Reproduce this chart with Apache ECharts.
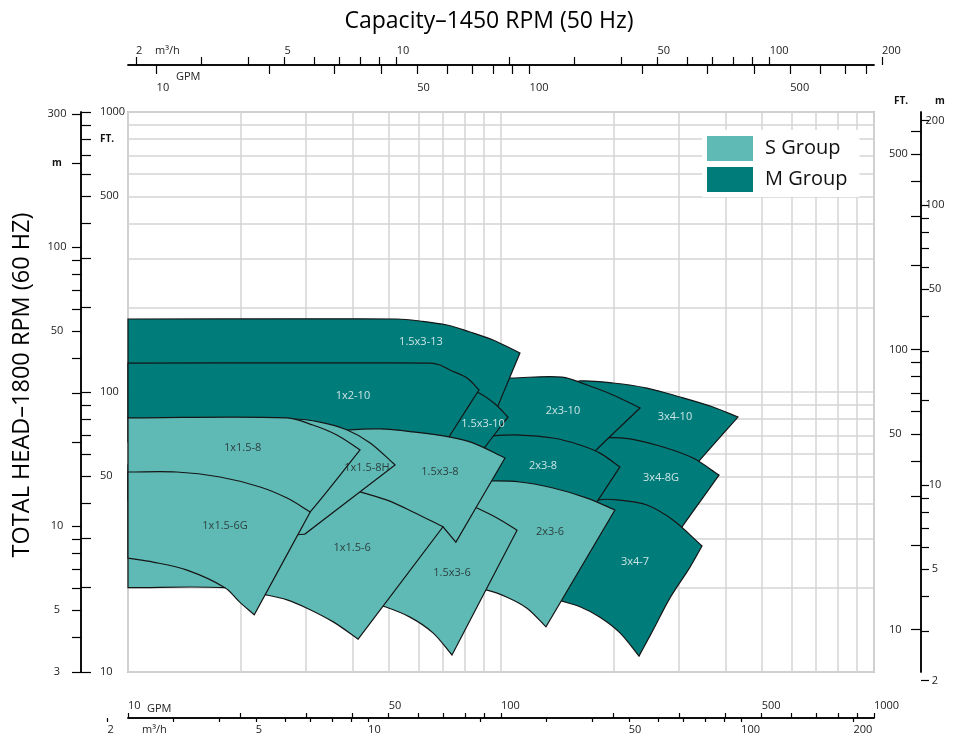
<!DOCTYPE html>
<html>
<head>
<meta charset="utf-8">
<title>Pump coverage chart</title>
<script src="https://cdn.jsdelivr.net/npm/echarts@6/dist/echarts.min.js"></script>
<style>
html, body { margin: 0; padding: 0; background: #fff; }
#chart { width: 955px; height: 740px; }
</style>
</head>
<body>
<div id="chart"></div>
<script>
// ---- axis ticks / labels ----
var gpmTicks = [10, 20, 30, 40, 50, 60, 70, 80, 90, 100, 200, 300, 400, 500, 600, 700, 800, 900, 1000];
var gpmLabelsBottom = [10, 50, 100, 500, 1000];
var gpmLabelsTop = [10, 50, 100, 500];
var m3hTicks = [2, 3, 4, 5, 6, 7, 8, 9, 10, 20, 30, 40, 50, 60, 70, 80, 90, 100, 200];
var m3hLabelsTop = [2, 5, 10, 50, 100];
var m3hLabelsBottom = [5, 10, 50, 100, 200];
var ftTicksLeft = [10, 20, 30, 40, 50, 60, 70, 80, 90, 100, 200, 300, 400, 500, 600, 700, 800, 900, 1000];
var ftLabelsLeft = [10, 50, 100, 500, 800, 1000];   // 800 is printed as "FT."
var ftTicksRight = [10, 20, 30, 40, 50, 60, 70, 80, 90, 100, 200, 300, 400, 500, 600];
var ftLabelsRight = [10, 50, 100, 500];
var mTicks = [2, 3, 4, 5, 6, 7, 8, 9, 10, 20, 30, 40, 50, 60, 70, 80, 90, 100, 200, 300];
var mLabelsLeft = [3, 5, 10, 50, 100, 200, 300];    // 200 is printed as "m"
var mLabelsRight = [5, 10, 50, 100, 200];

// ---- pump ranges, [GPM, FT] at 1800 RPM ----
// M group, back to front
var outline3x4_10 = [[153.1,105.9],[162.8,109.5],[199.7,107.7],[246.2,103.3],[302,96.0],[370.2,88.4],[431.9,81.4],[341.6,57.2],[331.2,54.4],[178.6,54.4]];
var outline3x4_8G = [[168.0,66.3],[184.2,68.5],[221.7,68.0],[271.9,63.6],[327.1,58.1],[384.1,50.5],[305.7,33.0],[298.3,31.6],[168.0,31.6]];
var outline3x4_7 = [[157.9,37.3],[182.0,41.1],[208.4,41.1],[246.2,39.5],[289.1,34.9],[345.9,28.2],[321.2,23.7],[283.9,18.4],[255.5,14.1],[234.4,11.4],[208.4,13.8],[184.2,15.7],[162.8,17.1],[145.7,17.9],[127.2,18.8]];
var outline2x3_10 = [[102.5,112.2],[107.0,112.2],[145.7,113.1],[170.1,105.9],[199.7,97.6],[235.9,87.7],[176.4,60.5],[171.1,57.2],[96.4,56.2],[91.7,67.4]];
var outline2x3_8 = [[87.8,69.7],[91.7,69.7],[112.4,70.2],[137.9,68.5],[162.8,64.7],[184.2,60.5],[208.4,54.0],[182.0,41.1],[173.2,37.3],[87.8,37.3]];
var outline15x3_13 = [[10,182.3],[52.6,182.3],[60.7,179.3],[71.6,173.5],[82.6,163.8],[95.2,153.4],[112.4,137.8],[97.6,87.7],[95.2,80.8],[10,80.8]];
var outline15x3_10 = [[53.6,116.9],[68.6,111.3],[87.3,99.2],[96.4,90.6],[104.4,81.4],[90.6,63.6],[88.4,60.5],[53.6,60.5]];
var outline1x2_10 = [[10,126.9],[64.5,126.9],[68.6,124.9],[73.0,119.8],[81.1,112.2],[87.3,101.7],[72.5,69.1],[71.2,66.3],[10,66.3]];

var mNames = ['3x4-10', '3x4-8G', '3x4-7', '2x3-10', '2x3-8', '1.5x3-13', '1.5x3-10', '1x2-10'];
var mOutlines = [outline3x4_10, outline3x4_8G, outline3x4_7, outline2x3_10, outline2x3_8, outline15x3_13, outline15x3_10, outline1x2_10];
var mLabelAt = [[292.7,81.4],[268.5,49.3],[228.7,24.7],[146.6,85.5],[129.6,54.4],[61.0,150.9],[89.5,76.9],[40.1,96.8]];

// S group, back to front
var outline2x3_6 = [[82.6,47.3],[93.4,48.1],[112.4,47.7],[137.9,45.4],[170.1,41.8],[202,37.9],[132.0,14.5],[117.4,16.9],[103.8,18.5],[91.7,19.6],[80.1,20.0]];
var outline15x3_6 = [[64.5,42.9],[77.6,41.1],[86.2,38.5],[97.6,35.5],[110.4,32.1],[73.9,11.5],[65.7,13.8],[57.0,15.7],[48.9,17.1],[44.6,17.6]];
var outline15x3_8 = [[34.8,71.4],[39.4,73.2],[47.4,73.8],[58.1,72.0],[72.5,69.1],[84.1,65.8],[102.5,58.1],[75.7,29.1],[69.9,33.0],[58.1,34.9],[39.4,39.5],[34.8,48.5]];
var outline1x15_6 = [[10,54.9],[21.2,52.7],[34.8,47.7],[41.9,44.0],[49.5,41.1],[58.1,37.3],[69.9,33.0],[41.4,13.1],[35.5,15.1],[30.2,16.9],[26.7,18.1],[23.7,18.8],[18.2,20.0],[10,20.0]];
var outline1x15_8H = [[15.6,78.8],[27.7,80.1],[32.7,78.1],[38.7,73.2],[44.6,65.8],[52.0,54.9],[29.8,31.1],[27.2,31.1],[15.6,48.5]];
var outline1x15_8 = [[10,80.8],[26.7,80.8],[31.3,76.2],[36.3,70.2],[41.9,62.1],[30.8,37.3],[28.9,34.9],[10,41.1]];
var outline1x15_6G = [[10,51.8],[13.5,51.8],[17.65,49.7],[22.6,45.8],[26.7,41.8],[30.8,37.3],[21.8,16.0],[19.9,17.8],[18.2,20.0],[14.4,23.1],[11.67,24.7],[10,25.5]];

var sNames = ['2x3-6', '1.5x3-6', '1.5x3-8', '1x1.5-6', '1x1.5-8H', '1x1.5-8', '1x1.5-6G'];
var sOutlines = [outline2x3_6, outline15x3_6, outline15x3_8, outline1x15_6, outline1x15_8H, outline1x15_8, outline1x15_6G];
var sLabelAt = [[135.3,31.6],[73.9,22.6],[68.6,51.8],[39.9,27.7],[43.7,53.5],[20.3,63.1],[18.2,33.2]];

// ---- unit conversions and geometry ----
var GPM_TO_M3H = 0.22712;
var FT_PER_M = 3.2808;
var X_DECADE = 373, Y_DECADE = 280;   // px per decade
var FONT = '"Open Sans", "Noto Sans", sans-serif';
var S_COLOR = '#5fbab5', M_COLOR = '#007c7b';

function atX(v, px, x) { return v * Math.pow(10, (x - px) / X_DECADE); }
function atY(v, py, y) { return v * Math.pow(10, (py - y) / Y_DECADE); }

function plain(v) {
    if (v === 800) return '{b|FT.}';
    return String(v);
}
function plainM(v) {
    if (v === 200) return '{b|m}';
    return String(v);
}

function logAxis(o) {
    return {
        type: 'log', logBase: 10,
        gridIndex: o.grid || 0,
        position: o.position, offset: o.offset,
        min: o.min, max: o.max,
        axisLine: { show: o.line !== false, onZero: false, lineStyle: { color: '#000', width: 1.5 } },
        axisTick: { show: true, inside: !!o.inside, length: o.tickLen, customValues: o.ticks, lineStyle: { color: '#000', width: 1.2 } },
        axisLabel: {
            show: true, inside: !!o.inside, margin: o.margin, customValues: o.labels,
            align: o.align, color: '#222', fontSize: 11, fontFamily: FONT,
            formatter: o.formatter || function (v) { return String(v); },
            rich: { b: { fontWeight: 'bold', fontSize: 10, color: '#111', fontFamily: FONT } }
        },
        splitLine: { show: !!o.split, lineStyle: { color: '#d4d4d4', width: 1.5 } },
        minorTick: { show: false },
        minorSplitLine: { show: false }
    };
}

function unit(a, b) {
    var dx = b[0] - a[0], dy = b[1] - a[1], l = Math.sqrt(dx * dx + dy * dy) || 1;
    return [dx / l, dy / l];
}

// closed path through the pixel points: smooth along curves, sharp at corners
function outlinePath(pts) {
    var n = pts.length;
    var corner = pts.map(function (p, i) {
        var u = unit(pts[(i - 1 + n) % n], p), v = unit(p, pts[(i + 1) % n]);
        return u[0] * v[0] + u[1] * v[1] < 0.85;
    });
    var tangent = pts.map(function (p, i) {
        return unit(pts[(i - 1 + n) % n], pts[(i + 1) % n]);
    });
    var start = corner.indexOf(true);
    if (start < 0) start = 0;
    var d = ['M', pts[start][0], pts[start][1]];
    for (var k = 0; k < n; k++) {
        var i = (start + k) % n, j = (i + 1) % n;
        var p0 = pts[i], p1 = pts[j];
        var seg = unit(p0, p1);
        var len = Math.sqrt((p1[0] - p0[0]) * (p1[0] - p0[0]) + (p1[1] - p0[1]) * (p1[1] - p0[1])) / 3;
        var t0 = corner[i] ? seg : tangent[i];
        var t1 = corner[j] ? seg : tangent[j];
        d.push('C',
            p0[0] + t0[0] * len, p0[1] + t0[1] * len,
            p1[0] - t1[0] * len, p1[1] - t1[1] * len,
            p1[0], p1[1]);
    }
    d.push('Z');
    return d.join(' ');
}

function drawOutlines(outlines, fill) {
    return function (params, api) {
        var pts = outlines[params.dataIndex].map(function (p) { return api.coord(p); });
        return {
            type: 'path',
            shape: { pathData: outlinePath(pts) },
            style: { fill: fill, stroke: '#151515', lineWidth: 1.2 }
        };
    };
}

function labelSeries(names, at, color) {
    return {
        type: 'scatter', silent: true, z: 5,
        symbolSize: 1, itemStyle: { color: 'rgba(0,0,0,0)' },
        data: names.map(function (n, i) { return [at[i][0], at[i][1], n]; }),
        label: {
            show: true, position: 'inside', color: color, fontSize: 11, fontFamily: FONT,
            formatter: function (p) { return p.data[2]; }
        }
    };
}

var chart = echarts.init(document.getElementById('chart'));

var option = {
    animation: false,
    backgroundColor: '#fff',
    textStyle: { fontFamily: FONT },
    grid: [
        { left: 128, right: 81, top: 112, bottom: 68, show: true, borderColor: '#c4c4c4', borderWidth: 2, backgroundColor: '#fff' },
        { left: 100, right: 55, top: 112, bottom: 40, show: false }
    ],
    legend: {
        data: ['S Group', 'M Group'],
        orient: 'vertical', left: 702, top: 130,
        backgroundColor: '#fff', padding: [6, 12, 5, 5],
        itemWidth: 46, itemHeight: 25, itemGap: 6, icon: 'rect',
        selectedMode: false,
        textStyle: { fontSize: 20, color: '#111', fontFamily: FONT, padding: [0, 0, 0, 7] }
    },
    xAxis: [
        // 1800 RPM, GPM (bottom, above the line)
        logAxis({ position: 'bottom', offset: 46, min: 10, max: 1000, inside: true, tickLen: 5,
            ticks: gpmTicks, labels: gpmLabelsBottom, margin: 7, align: 'left', split: true }),
        // 1800 RPM, m3/h (bottom, below the line)
        logAxis({ position: 'bottom', offset: 46, min: 10 * GPM_TO_M3H, max: 1000 * GPM_TO_M3H, tickLen: 4,
            ticks: m3hTicks, labels: m3hLabelsBottom, margin: 6, align: 'left' }),
        // 1450 RPM, m3/h (top, above the line)
        logAxis({ position: 'top', offset: 47, min: atX(2, 136, 128), max: atX(2, 136, 874), tickLen: 8,
            ticks: m3hTicks, labels: m3hLabelsTop, margin: 9, align: 'left' }),
        // 1450 RPM, GPM (top, below the line)
        logAxis({ position: 'top', offset: 47, min: atX(2, 136, 128) / GPM_TO_M3H, max: atX(2, 136, 874) / GPM_TO_M3H,
            inside: true, tickLen: 9, ticks: gpmTicks, labels: gpmLabelsTop, margin: 17, align: 'left' }),
        // ticks that sit past the ends of the axis lines
        logAxis({ grid: 1, position: 'top', offset: 47, min: atX(2, 136, 100), max: atX(2, 136, 900), line: false,
            tickLen: 8, ticks: [200], labels: [200], margin: 9, align: 'left' }),
        logAxis({ grid: 1, position: 'bottom', offset: 18, min: atX(10 * GPM_TO_M3H, 128, 100), max: atX(10 * GPM_TO_M3H, 128, 900), line: false,
            tickLen: 4, ticks: [2], labels: [2], margin: 6, align: 'left' })
    ],
    yAxis: [
        // 1800 RPM, FT (left, inner side)
        logAxis({ position: 'left', offset: 47, min: 10, max: 1000, inside: true, tickLen: 10,
            ticks: ftTicksLeft, labels: ftLabelsLeft, margin: 19, align: 'left', split: true, formatter: plain }),
        // 1800 RPM, m (left, outer side)
        logAxis({ position: 'left', offset: 47, min: 3, max: 1000 / FT_PER_M, tickLen: 9,
            ticks: mTicks, labels: mLabelsLeft, margin: 24, align: 'center', formatter: plainM }),
        // 1450 RPM, FT (right, inner side)
        logAxis({ position: 'right', offset: 47, min: atY(10, 485, 672) * FT_PER_M, max: atY(10, 485, 112) * FT_PER_M,
            inside: true, tickLen: 10, ticks: ftTicksRight, labels: ftLabelsRight, margin: 32, align: 'left' }),
        // 1450 RPM, m (right, outer side)
        logAxis({ position: 'right', offset: 47, min: atY(10, 485, 672), max: atY(10, 485, 112), tickLen: 8,
            ticks: mTicks, labels: mLabelsRight, margin: 14, align: 'center' }),
        logAxis({ grid: 1, position: 'right', offset: 21, min: atY(10, 485, 700), max: atY(10, 485, 112), line: false,
            tickLen: 8, ticks: [2], labels: [2], margin: 14, align: 'center' })
    ],
    graphic: [
        { type: 'text', x: 489, y: 21, style: { text: 'Capacity\u20131450 RPM (50 Hz)', fill: '#000', font: '23px ' + FONT, align: 'center', verticalAlign: 'middle' } },
        { type: 'text', x: 22, y: 385, rotation: Math.PI / 2, style: { text: 'TOTAL HEAD\u20131800 RPM (60 HZ)', fill: '#000', font: '23.5px ' + FONT, align: 'center', verticalAlign: 'middle' } },
        { type: 'text', x: 155, y: 51, style: { text: 'm\u00b3/h', fill: '#222', font: '11px ' + FONT, align: 'left', verticalAlign: 'middle' } },
        { type: 'text', x: 176, y: 77, style: { text: 'GPM', fill: '#222', font: '11px ' + FONT, align: 'left', verticalAlign: 'middle' } },
        { type: 'text', x: 147, y: 709, style: { text: 'GPM', fill: '#222', font: '11px ' + FONT, align: 'left', verticalAlign: 'middle' } },
        { type: 'text', x: 142, y: 730, style: { text: 'm\u00b3/h', fill: '#222', font: '11px ' + FONT, align: 'left', verticalAlign: 'middle' } },
        { type: 'text', x: 894, y: 101, style: { text: 'FT.', fill: '#111', font: 'bold 10px ' + FONT, align: 'left', verticalAlign: 'middle' } },
        { type: 'text', x: 935, y: 101, style: { text: 'm', fill: '#111', font: 'bold 10px ' + FONT, align: 'left', verticalAlign: 'middle' } }
    ],
    series: [
        {
            name: 'M Group', type: 'custom', silent: true,
            xAxisIndex: 0, yAxisIndex: 0,
            itemStyle: { color: M_COLOR },
            renderItem: drawOutlines(mOutlines, M_COLOR),
            data: mLabelAt
        },
        {
            name: 'S Group', type: 'custom', silent: true,
            xAxisIndex: 0, yAxisIndex: 0,
            itemStyle: { color: S_COLOR },
            renderItem: drawOutlines(sOutlines, S_COLOR),
            data: sLabelAt
        },
        labelSeries(mNames, mLabelAt, '#fff'),
        labelSeries(sNames, sLabelAt, '#1e1e1e')
    ]
};

chart.setOption(option);
</script>
</body>
</html>
